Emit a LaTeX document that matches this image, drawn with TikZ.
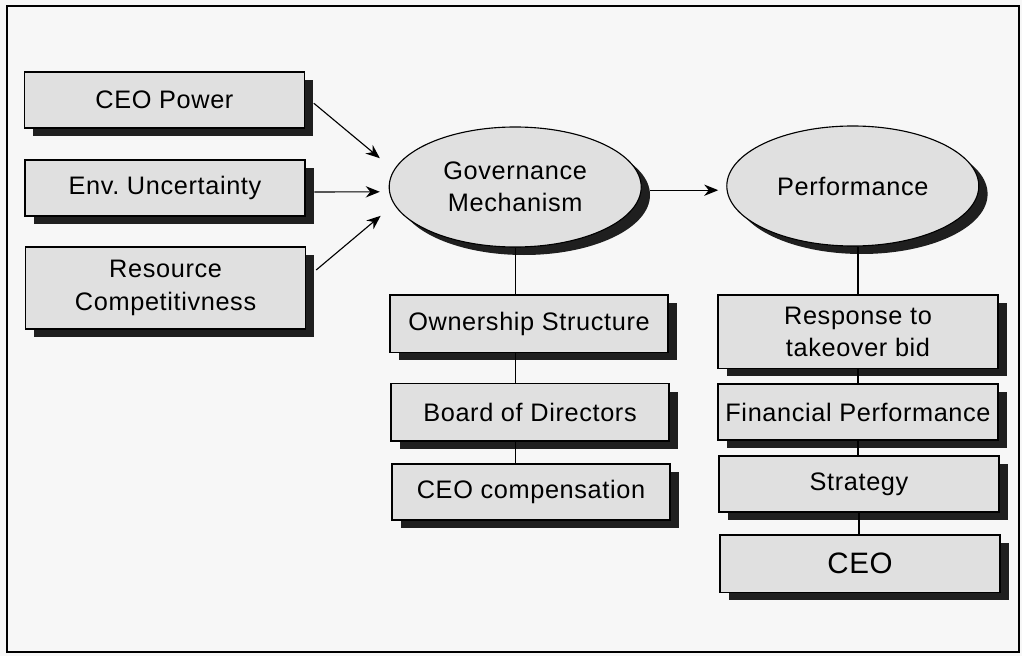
\documentclass[tikz,border=0pt]{standalone}
\usepackage{fontspec}
\setmainfont[LetterSpace=2.5]{Liberation Sans}
\frenchspacing
\usetikzlibrary{arrows.meta,shapes,shadows,positioning}

\begin{document}
\begin{tikzpicture}[
  blok/.style={draw, line width=.8pt, fill=black!12, minimum width=7cm, minimum height=1.4cm,
    inner sep=2pt, align=center, font=\fontsize{18}{23}\selectfont,
    drop shadow={shadow xshift=.22cm, shadow yshift=-.2cm, fill=black!88, opacity=1}},
  elip/.style={blok, ellipse, minimum width=6.3cm, minimum height=3cm},
  spoj/.style={line width=.8pt},
  sipka/.style={line width=.8pt, -{Stealth[length=10pt,width=8pt]}}
]
\useasboundingbox (0,0) rectangle (25.55,-16.4);
\fill[black!3] (0,0) rectangle (25.55,-16.4);
\draw[line width=1.6pt] (0.175,-0.15) rectangle (25.475,-16.3);

% vstupy
\node[blok] (ceop) at (4.11,-2.5) {CEO Power};
\node[blok] (env) at (4.125,-4.7) {Env. Uncertainty};
\node[blok, minimum height=2.05cm] (res) at (4.14,-7.2) {Resource\\Competitivness};

% elipsy
\node[elip] (gov) at (12.88,-4.675) {Governance\\Mechanism};
\node[elip] (perf) at (21.32,-4.65) {Performance};

% governance
\node[blok, minimum width=6.95cm, minimum height=1.43cm] (own) at (13.225,-8.09) {Ownership Structure};
\node[blok, minimum width=6.95cm, minimum height=1.43cm] (board) at (13.25,-10.31) {Board of Directors};
\node[blok, minimum width=6.95cm] (comp) at (13.275,-12.3) {CEO compensation};

% performance
\node[blok, minimum height=1.83cm] (resp) at (21.45,-8.29) {Response to\\takeover bid};
\node[blok] (fin) at (21.45,-10.3) {Financial Performance};
\node[blok] (strat) at (21.475,-12.1) {Strategy};
\node[blok, minimum height=1.43cm, font=\fontsize{21}{25}\selectfont] (ceo) at (21.5,-14.09) {CEO};

% ... sipky
\draw[sipka] ([xshift=.22cm,yshift=-.08cm]ceop.east) -- ([xshift=-.22cm,yshift=.72cm]gov.west);
\draw[sipka] ([xshift=.22cm,yshift=-.1cm]env.east) -- ([xshift=-.22cm,yshift=-.12cm]gov.west);
\draw[sipka] ([xshift=.25cm,yshift=.45cm]res.east) -- ([xshift=-.2cm,yshift=-.72cm]gov.west);
\draw[sipka] ([xshift=.2cm,yshift=-.08cm]gov.east) -- ([xshift=-.2cm,yshift=-.08cm]gov.east -| perf.west);

% ... spoje
\draw[spoj] (gov.south) -- (gov.south |- own.north);
\draw[spoj] (own.south -| gov.south) -- (board.north -| gov.south);
\draw[spoj] (board.south -| gov.south) -- (comp.north -| gov.south);
\draw[spoj] (perf.south -| resp.north) -- (resp.north);
\draw[spoj] (resp.south) -- (fin.north);
\draw[spoj] (fin.south) -- (fin.south |- strat.north);
\draw[spoj] (strat.south) -- (strat.south |- ceo.north);

\end{tikzpicture}
\end{document}
